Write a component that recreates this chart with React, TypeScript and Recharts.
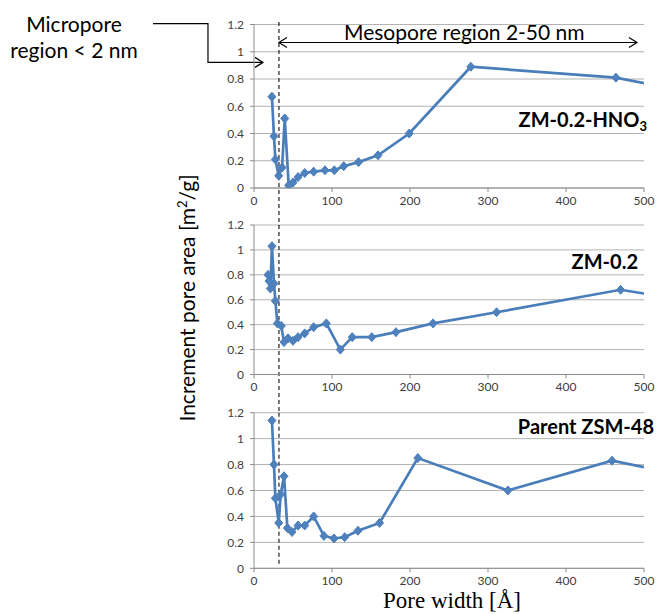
import React from 'react';
import { LineChart, Line, XAxis, YAxis, CartesianGrid, ReferenceLine } from 'recharts';

// pore width [Å] and increment pore area [m²/g]
const hno3Width = [23, 25.6, 27.4, 31.7, 36, 39.4, 44.5, 50, 56.5, 65, 76.5, 91, 103, 115, 134, 159, 199, 278, 464, 500];
const hno3Area = [0.67, 0.38, 0.21, 0.09, 0.15, 0.51, 0.02, 0.04, 0.08, 0.11, 0.12, 0.13, 0.13, 0.16, 0.19, 0.24, 0.4, 0.89, 0.81, 0.77];

const zm02Width = [18, 19.3, 21, 23, 25.6, 27.4, 30, 35, 38.5, 43.6, 50, 56.5, 65, 76.5, 92.7, 110.7, 126, 151, 182, 229.5, 311, 470, 500];
const zm02Area = [0.8, 0.75, 0.69, 1.03, 0.73, 0.59, 0.41, 0.39, 0.26, 0.29, 0.27, 0.3, 0.33, 0.38, 0.41, 0.2, 0.3, 0.3, 0.34, 0.41, 0.5, 0.68, 0.65];

const parentWidth = [23, 25.6, 27.4, 31.7, 34.2, 38.5, 42.8, 48.7, 56.5, 65, 76.5, 89.7, 102.6, 116.3, 133.3, 161, 210, 325.5, 459, 500];
const parentArea = [1.14, 0.8, 0.54, 0.35, 0.57, 0.71, 0.31, 0.28, 0.33, 0.33, 0.4, 0.25, 0.23, 0.24, 0.29, 0.35, 0.85, 0.6, 0.83, 0.78];

const xTicks = [0, 100, 200, 300, 400, 500];
const yTicks = [0, 0.2, 0.4, 0.6, 0.8, 1, 1.2];
const microLimit = 32; // dashed divider
const xMax = 500;

const toRows = (w: number[], a: number[]) => w.map((v, i) => ({ w: v, a: a[i] }));

const BLUE = '#4A7EBB';
const FONT = 'Lato, "Open Sans", sans-serif';

const Diamond = (props: any) => {
  const { cx, cy, index, payload } = props;
  if (cx == null || payload.w >= xMax) return <g key={index} />;
  return (
    <path
      key={index}
      d={`M${cx},${cy - 4.5}L${cx + 4},${cy}L${cx},${cy + 4.5}L${cx - 4},${cy}Z`}
      fill="#4F81BD"
      stroke={BLUE}
      strokeWidth={1}
    />
  );
};

// double headed arrow for the mesopore span
const DoubleArrow = (props: any) => {
  const x1 = Math.min(props.x1, props.x2);
  const x2 = Math.max(props.x1, props.x2);
  const y = props.y1;
  return (
    <g stroke="#000" strokeWidth={1.2} fill="none">
      <line x1={x1} y1={y} x2={x2} y2={y} />
      <path d={`M${x1 + 8},${y - 5}L${x1},${y}L${x1 + 8},${y + 5}`} />
      <path d={`M${x2 - 8},${y - 5}L${x2},${y}L${x2 - 8},${y + 5}`} />
    </g>
  );
};

// elbow arrow pointing into the micropore region
const ElbowArrow = (props: any) => {
  const left = props.x1 < props.x2 ? { x: props.x1, y: props.y1 } : { x: props.x2, y: props.y2 };
  const right = props.x1 < props.x2 ? { x: props.x2, y: props.y2 } : { x: props.x1, y: props.y1 };
  const mx = (left.x + right.x) / 2;
  return (
    <g stroke="#000" strokeWidth={1.2} fill="none">
      <path d={`M${left.x},${left.y}H${mx}V${right.y}H${right.x}`} />
      <path d={`M${right.x - 8},${right.y - 5}L${right.x},${right.y}L${right.x - 8},${right.y + 5}`} />
    </g>
  );
};

interface PanelProps {
  rows: { w: number; a: number }[];
  top: number;
  height: number;
  mTop: number;
  mBottom: number;
  dashFrom: number;
  dashTo: number;
  children?: React.ReactNode;
}

const Panel: React.FC<PanelProps> = ({ rows, top, height, mTop, mBottom, dashFrom, dashTo, children }) => (
  <div style={{ position: 'absolute', left: 0, top, width: 656, height }}>
    <LineChart width={656} height={height} data={rows} margin={{ top: mTop, right: 12, left: 200, bottom: mBottom }}>
      <CartesianGrid horizontal vertical={false} stroke="#b3b3b3" strokeWidth={1} />
      <XAxis
        type="number"
        dataKey="w"
        domain={[0, xMax]}
        ticks={xTicks}
        allowDataOverflow
        height={25}
        tickSize={4}
        tickMargin={4}
        stroke="#8c8c8c"
        tick={{ fill: '#404040', fontSize: 12, fontFamily: FONT }}
      />
      <YAxis
        type="number"
        domain={[0, 1.2]}
        ticks={yTicks}
        allowDataOverflow
        width={54}
        tickSize={4}
        tickMargin={6}
        stroke="#8c8c8c"
        tick={{ fill: '#404040', fontSize: 12, fontFamily: FONT }}
      />
      <ReferenceLine
        segment={[{ x: microLimit, y: dashFrom }, { x: microLimit, y: dashTo }]}
        ifOverflow="visible"
        stroke="#333"
        strokeWidth={1.3}
        strokeDasharray="4 3"
      />
      {children}
      <Line
        type="linear"
        dataKey="a"
        stroke={BLUE}
        strokeWidth={2.7}
        dot={Diamond}
        activeDot={false}
        isAnimationActive={false}
      />
    </LineChart>
  </div>
);

const Txt: React.FC<{ style: React.CSSProperties; children: React.ReactNode }> = ({ style, children }) => (
  <div style={{ position: 'absolute', whiteSpace: 'nowrap', fontFamily: FONT, color: '#000', lineHeight: 1, ...style }}>
    {children}
  </div>
);

const App: React.FC = () => (
  <div style={{ position: 'absolute', left: 0, top: 0, width: 656, height: 614, background: '#fff', overflow: 'hidden' }}>
    <Panel rows={toRows(hno3Width, hno3Area)} top={0} height={226} mTop={24.5} mBottom={13} dashFrom={1.218} dashTo={-0.28}>
      <ReferenceLine
        segment={[{ x: microLimit, y: 1.068 }, { x: 491, y: 1.068 }]}
        ifOverflow="visible"
        shape={DoubleArrow}
      />
      <ReferenceLine
        segment={[{ x: -129.5, y: 1.207 }, { x: 11.5, y: 0.922 }]}
        ifOverflow="visible"
        shape={ElbowArrow}
      />
    </Panel>
    <Panel rows={toRows(zm02Width, zm02Area)} top={205} height={210} mTop={20} mBottom={15.5} dashFrom={1.2} dashTo={-0.31} />
    <Panel rows={toRows(parentWidth, parentArea)} top={392} height={222} mTop={20.7} mBottom={20.7} dashFrom={1.2} dashTo={0.025} />

    <Txt style={{ left: 0, width: 148, top: 13, fontSize: 21, textAlign: 'center' }}>Micropore</Txt>
    <Txt style={{ left: 0, width: 148, top: 39, fontSize: 21, textAlign: 'center' }}>region &lt; 2 nm</Txt>
    <Txt style={{ left: 344, width: 240, top: 21, fontSize: 21, textAlign: 'center' }}>Mesopore region 2-50 nm</Txt>

    <Txt style={{ right: 9, top: 109, fontSize: 20, fontWeight: 700 }}>
      ZM-0.2-HNO<sub style={{ fontSize: 13, verticalAlign: -4 }}>3</sub>
    </Txt>
    <Txt style={{ right: 18, top: 251, fontSize: 20, fontWeight: 700 }}>ZM-0.2</Txt>
    <Txt style={{ right: 2, top: 416, fontSize: 20, fontWeight: 700 }}>Parent ZSM-48</Txt>

    <Txt
      style={{
        left: 186,
        top: 298,
        fontSize: 21,
        transform: 'translate(-50%, -50%) rotate(-90deg)',
      }}
    >
      Increment pore area [m<sup style={{ fontSize: 13, verticalAlign: 8 }}>2</sup>/g]
    </Txt>
    <Txt style={{ left: 352, width: 200, top: 589, fontSize: 23, textAlign: 'center', fontFamily: '"Liberation Serif", serif' }}>
      Pore width [Å]
    </Txt>
  </div>
);

export default App;
